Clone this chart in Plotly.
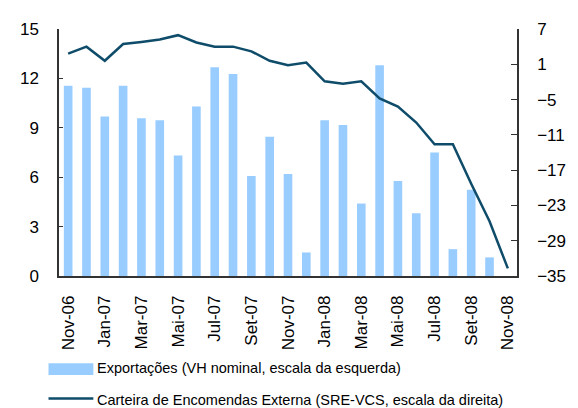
import plotly.graph_objects as go

months = ["Nov-06", "Dez-06", "Jan-07", "Fev-07", "Mar-07", "Abr-07", "Mai-07", "Jun-07",
          "Jul-07", "Ago-07", "Set-07", "Out-07", "Nov-07", "Dez-07", "Jan-08", "Fev-08",
          "Mar-08", "Abr-08", "Mai-08", "Jun-08", "Jul-08", "Ago-08", "Set-08", "Out-08",
          "Nov-08"]

exportacoes = [11.55, 11.43, 9.68, 11.55, 9.58, 9.46, 7.32, 10.3, 12.68, 12.26, 6.07, 8.45,
               6.19, 1.43, 9.46, 9.17, 4.4, 12.8, 5.77, 3.81, 7.5, 1.63, 5.24, 1.13, None]

carteira = [2.8, 4.0, 1.6, 4.45, 4.8, 5.2, 5.95, 4.7, 4.0, 4.0, 3.2, 1.6, 0.85, 1.3,
            -1.9, -2.3, -1.9, -4.8, -6.2, -8.9, -12.6, -12.6, -19.3, -25.7, -33.7]

tick_labels = months[::2]
left_ticks = [0, 3, 6, 9, 12, 15]
right_ticks = [-35, -29, -23, -17, -11, -5, 1, 7]

name_bar = "Exportações (VH nominal, escala da esquerda)"
name_line = "Carteira de Encomendas Externa (SRE-VCS, escala da direita)"

BAR_COLOR = "#99CCFF"
LINE_COLOR = "#0E4C6A"
AXIS_COLOR = "#333333"
FONT = "Arial, Liberation Sans, sans-serif"

idx = list(range(len(months)))

fig = go.Figure()
fig.add_trace(go.Bar(x=idx, y=exportacoes, name=name_bar, marker_color=BAR_COLOR,
                     marker_line_width=0, width=0.47, yaxis="y", xaxis="x"))
fig.add_trace(go.Scatter(x=idx, y=carteira, name=name_line, mode="lines",
                         line=dict(color=LINE_COLOR, width=2.5), yaxis="y2", xaxis="x"))

n = len(months)
# page body has an 8px default margin, so the figure is sized to fit the window
fig.update_layout(
    width=570, height=400,
    margin=dict(l=41, r=49, t=16, b=132),
    paper_bgcolor="white", plot_bgcolor="white",
    showlegend=False,
    font=dict(family=FONT, color="black", size=17),
    xaxis=dict(range=[-0.5, n - 0.5], tickmode="array", tickvals=idx[::2],
               ticktext=tick_labels, tickangle=-90, ticks="", showgrid=False,
               zeroline=False, showline=True, linecolor=AXIS_COLOR, linewidth=1.5,
               tickfont=dict(size=17), ticklabelstandoff=11),
    xaxis2=dict(range=[-0.5, n - 0.5], overlaying="x", anchor="y", side="bottom",
                tickmode="array", tickvals=[i - 0.5 for i in idx[::2]][:-1] + [n - 1.5],
                showticklabels=False, ticks="outside", ticklen=5, tickcolor=AXIS_COLOR,
                tickwidth=1.5, showgrid=False, zeroline=False, showline=False),
    yaxis=dict(range=[0, 15], tickmode="array", tickvals=left_ticks, ticks="inside",
               ticklen=4, tickcolor=AXIS_COLOR, showgrid=False, zeroline=False,
               showline=True, linecolor=AXIS_COLOR, linewidth=1.5,
               tickfont=dict(size=17), ticklabelstandoff=15),
    yaxis2=dict(range=[-35, 7], tickmode="array", tickvals=right_ticks, ticks="inside",
                ticklen=6, tickcolor=AXIS_COLOR, overlaying="y", side="right",
                anchor="x", showgrid=False, zeroline=False, showline=True,
                linecolor=AXIS_COLOR, linewidth=1.5, tickfont=dict(size=17),
                ticklabelstandoff=15),
)

# legend drawn as swatches + text (paper coords relative to the plot area)
fig.add_shape(type="rect", xref="paper", yref="paper",
              x0=(38 - 49) / 480, x1=(85 - 49) / 480,
              y0=(276 - 377) / 252, y1=(276 - 365) / 252,
              fillcolor=BAR_COLOR, line_width=0)
fig.add_shape(type="line", xref="paper", yref="paper",
              x0=(38 - 49) / 480, x1=(85 - 49) / 480,
              y0=(276 - 401) / 252, y1=(276 - 401) / 252,
              line=dict(color=LINE_COLOR, width=2.5))
fig.add_annotation(text=name_bar, xref="paper", yref="paper",
                   x=(87 - 49) / 480, y=(276 - 370) / 252, xanchor="left", yanchor="middle",
                   showarrow=False, font=dict(size=14.5))
fig.add_annotation(text=name_line, xref="paper", yref="paper",
                   x=(87 - 49) / 480, y=(276 - 402) / 252, xanchor="left", yanchor="middle",
                   showarrow=False, font=dict(size=14.5))

fig.write_html("out.html")
